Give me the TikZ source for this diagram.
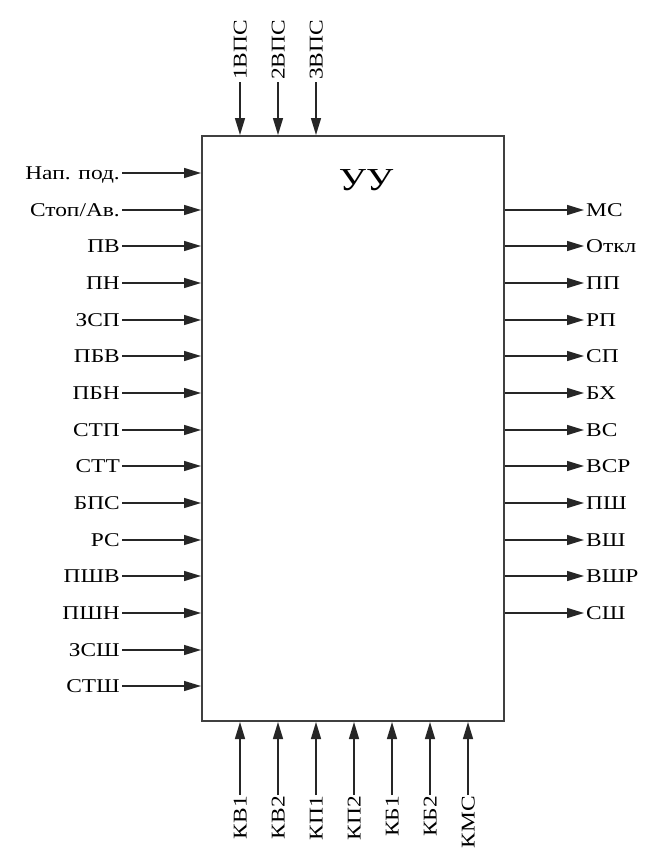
\documentclass[tikz,border=0pt]{standalone}
\usepackage{fontspec}
\setmainfont[FakeStretch=1.2]{Liberation Serif}
\usetikzlibrary{arrows.meta, positioning, calc}

\begin{document}
\begin{tikzpicture}[x=1pt, y=-1pt, font=\fontsize{19.5}{22}\selectfont,
  sig/.style={draw=black!85, line width=1.4pt, -{Triangle[length=17pt, width=10pt]}},
  lbl/.style={inner sep=2pt, text height=13pt, text depth=0pt}]
  \useasboundingbox[fill=white] (0,0) rectangle (651,851);

  % control unit
  \node[draw=black!75, line width=2pt, minimum width=302pt, minimum height=585pt, inner sep=0pt] (uu) at (353,428.5) {};
  \node[font=\fontsize{32}{36}\selectfont] (title) at (366,180) {УУ};

  % inputs, left
  \node[lbl, anchor=east] (nap)  at (122,173) {Нап. под.};
  \node[lbl, anchor=east] (stop) at (122,210) {Стоп/Ав.};
  \node[lbl, anchor=east] (pv)   at (122,246) {ПВ};
  \node[lbl, anchor=east] (pn)   at (122,283) {ПН};
  \node[lbl, anchor=east] (zsp)  at (122,320) {ЗСП};
  \node[lbl, anchor=east] (pbv)  at (122,356) {ПБВ};
  \node[lbl, anchor=east] (pbn)  at (122,393) {ПБН};
  \node[lbl, anchor=east] (stp)  at (122,430) {СТП};
  \node[lbl, anchor=east] (stt)  at (122,466) {СТТ};
  \node[lbl, anchor=east] (bps)  at (122,503) {БПС};
  \node[lbl, anchor=east] (rs)   at (122,540) {РС};
  \node[lbl, anchor=east] (pshv) at (122,576) {ПШВ};
  \node[lbl, anchor=east] (pshn) at (122,613) {ПШН};
  \node[lbl, anchor=east] (zssh) at (122,650) {ЗСШ};
  \node[lbl, anchor=east] (stsh) at (122,686) {СТШ};

  \draw[sig] (nap.east)  -- (nap.east -| uu.west);
  \draw[sig] (stop.east) -- (stop.east -| uu.west);
  \draw[sig] (pv.east)   -- (pv.east -| uu.west);
  \draw[sig] (pn.east)   -- (pn.east -| uu.west);
  \draw[sig] (zsp.east)  -- (zsp.east -| uu.west);
  \draw[sig] (pbv.east)  -- (pbv.east -| uu.west);
  \draw[sig] (pbn.east)  -- (pbn.east -| uu.west);
  \draw[sig] (stp.east)  -- (stp.east -| uu.west);
  \draw[sig] (stt.east)  -- (stt.east -| uu.west);
  \draw[sig] (bps.east)  -- (bps.east -| uu.west);
  \draw[sig] (rs.east)   -- (rs.east -| uu.west);
  \draw[sig] (pshv.east) -- (pshv.east -| uu.west);
  \draw[sig] (pshn.east) -- (pshn.east -| uu.west);
  \draw[sig] (zssh.east) -- (zssh.east -| uu.west);
  \draw[sig] (stsh.east) -- (stsh.east -| uu.west);

  % outputs, right
  \node[lbl, anchor=west] (ms)   at (584,210) {МС};
  \node[lbl, anchor=west] (otkl) at (584,246) {Откл};
  \node[lbl, anchor=west] (pp)   at (584,283) {ПП};
  \node[lbl, anchor=west] (rp)   at (584,320) {РП};
  \node[lbl, anchor=west] (sp)   at (584,356) {СП};
  \node[lbl, anchor=west] (bh)   at (584,393) {БХ};
  \node[lbl, anchor=west] (vs)   at (584,430) {ВС};
  \node[lbl, anchor=west] (vsr)  at (584,466) {ВСР};
  \node[lbl, anchor=west] (psh)  at (584,503) {ПШ};
  \node[lbl, anchor=west] (vsh)  at (584,540) {ВШ};
  \node[lbl, anchor=west] (vshr) at (584,576) {ВШР};
  \node[lbl, anchor=west] (ssh)  at (584,613) {СШ};

  \draw[sig] (ms.west -| uu.east)   -- (ms.west);
  \draw[sig] (otkl.west -| uu.east) -- (otkl.west);
  \draw[sig] (pp.west -| uu.east)   -- (pp.west);
  \draw[sig] (rp.west -| uu.east)   -- (rp.west);
  \draw[sig] (sp.west -| uu.east)   -- (sp.west);
  \draw[sig] (bh.west -| uu.east)   -- (bh.west);
  \draw[sig] (vs.west -| uu.east)   -- (vs.west);
  \draw[sig] (vsr.west -| uu.east)  -- (vsr.west);
  \draw[sig] (psh.west -| uu.east)  -- (psh.west);
  \draw[sig] (vsh.west -| uu.east)  -- (vsh.west);
  \draw[sig] (vshr.west -| uu.east) -- (vshr.west);
  \draw[sig] (ssh.west -| uu.east)  -- (ssh.west);

  % inputs, top
  \node[lbl, rotate=90, anchor=west] (vps1) at (240,82) {1ВПС};
  \node[lbl, rotate=90, anchor=west] (vps2) at (278,82) {2ВПС};
  \node[lbl, rotate=90, anchor=west] (vps3) at (316,82) {3ВПС};

  \draw[sig] (vps1.west) -- (vps1.west |- uu.north);
  \draw[sig] (vps2.west) -- (vps2.west |- uu.north);
  \draw[sig] (vps3.west) -- (vps3.west |- uu.north);

  % inputs, bottom
  \node[lbl, inner sep=1pt, rotate=90, anchor=east] (kv1) at (240,795) {КВ1};
  \node[lbl, inner sep=1pt, rotate=90, anchor=east] (kv2) at (278,795) {КВ2};
  \node[lbl, inner sep=1pt, rotate=90, anchor=east] (kp1) at (316,795) {КП1};
  \node[lbl, inner sep=1pt, rotate=90, anchor=east] (kp2) at (354,795) {КП2};
  \node[lbl, inner sep=1pt, rotate=90, anchor=east] (kb1) at (392,795) {КБ1};
  \node[lbl, inner sep=1pt, rotate=90, anchor=east] (kb2) at (430,795) {КБ2};
  \node[lbl, inner sep=1pt, rotate=90, anchor=east] (kms) at (468,795) {КМС};

  \draw[sig] (kv1.east) -- (kv1.east |- uu.south);
  \draw[sig] (kv2.east) -- (kv2.east |- uu.south);
  \draw[sig] (kp1.east) -- (kp1.east |- uu.south);
  \draw[sig] (kp2.east) -- (kp2.east |- uu.south);
  \draw[sig] (kb1.east) -- (kb1.east |- uu.south);
  \draw[sig] (kb2.east) -- (kb2.east |- uu.south);
  \draw[sig] (kms.east) -- (kms.east |- uu.south);
\end{tikzpicture}
\end{document}
